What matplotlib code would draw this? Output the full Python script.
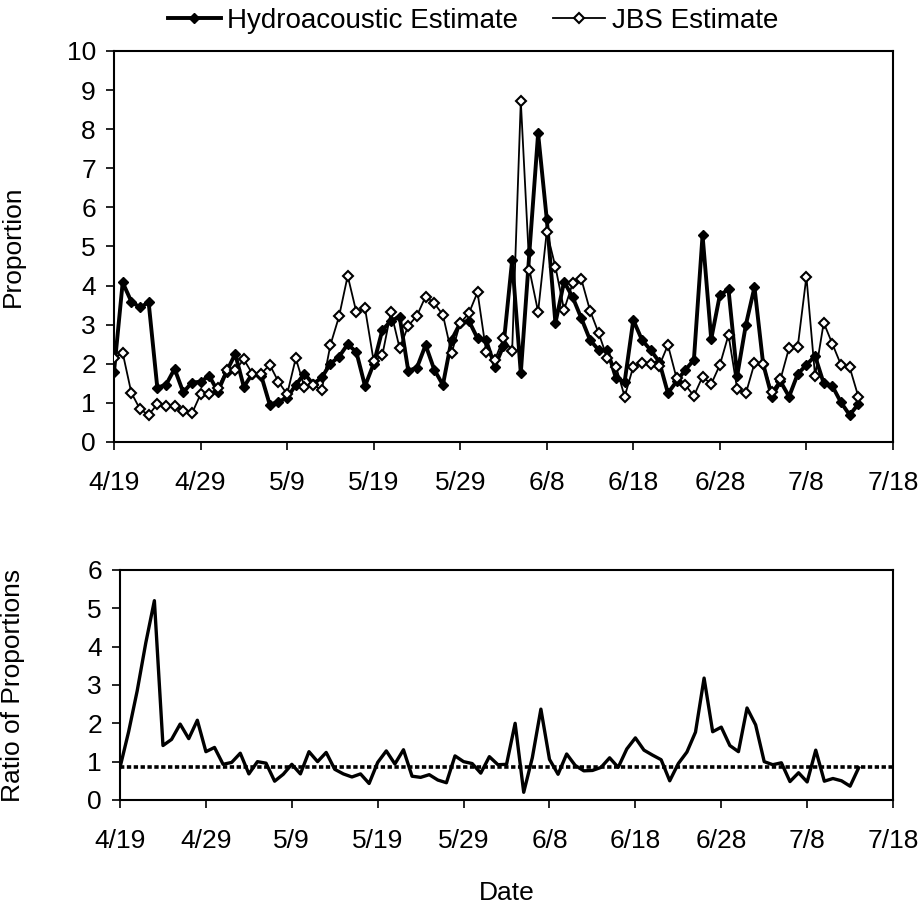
import numpy as np
import matplotlib
matplotlib.use('Agg')
import matplotlib.pyplot as plt

plt.rcParams['font.family'] = ['Liberation Sans', 'DejaVu Sans']

# daily values, 4/19 .. 7/14
hydro = [1.80, 4.08, 3.59, 3.44, 3.57, 1.39, 1.46, 1.87, 1.27, 1.52,
         1.54, 1.69, 1.29, 1.80, 2.25, 1.41, 1.75, 1.70, 0.95, 1.03,
         1.13, 1.46, 1.75, 1.48, 1.65, 2.00, 2.18, 2.50, 2.30, 1.43,
         2.00, 2.86, 3.10, 3.20, 1.82, 1.90, 2.48, 1.85, 1.46, 2.61,
         3.04, 3.10, 2.65, 2.60, 1.93, 2.46, 4.65, 1.76, 4.87, 7.89,
         5.70, 3.04, 4.10, 3.70, 3.16, 2.61, 2.35, 2.35, 1.63, 1.54,
         3.12, 2.61, 2.35, 2.05, 1.25, 1.55, 1.84, 2.10, 5.29, 2.63,
         3.76, 3.90, 1.69, 2.99, 3.96, 2.00, 1.16, 1.55, 1.16, 1.74,
         1.97, 2.20, 1.50, 1.43, 1.01, 0.69, 0.97]
jbs = [2.14, 2.28, 1.26, 0.84, 0.69, 0.97, 0.92, 0.92, 0.79, 0.73,
       1.22, 1.22, 1.39, 1.84, 1.84, 2.11, 1.74, 1.75, 1.97, 1.54,
       1.22, 2.14, 1.41, 1.46, 1.33, 2.48, 3.21, 4.25, 3.32, 3.42,
       2.07, 2.22, 3.33, 2.40, 2.97, 3.23, 3.72, 3.55, 3.25, 2.27,
       3.04, 3.29, 3.83, 2.31, 2.10, 2.65, 2.33, 8.72, 4.40, 3.33,
       5.38, 4.48, 3.38, 4.06, 4.16, 3.36, 2.78, 2.14, 1.93, 1.16,
       1.93, 2.01, 2.00, 1.95, 2.48, 1.63, 1.46, 1.18, 1.67, 1.48,
       1.97, 2.74, 1.35, 1.24, 2.01, 1.99, 1.29, 1.60, 2.41, 2.44,
       4.23, 1.69, 3.05, 2.51, 1.97, 1.91, 1.16]
ratio = [0.85, 1.78, 2.85, 4.10, 5.20, 1.42, 1.58, 1.98, 1.60, 2.08,
         1.26, 1.37, 0.93, 0.98, 1.22, 0.68, 1.00, 0.96, 0.49, 0.67,
         0.93, 0.68, 1.26, 1.00, 1.24, 0.80, 0.68, 0.60, 0.68, 0.43,
         0.98, 1.28, 0.94, 1.31, 0.62, 0.59, 0.66, 0.52, 0.45, 1.15,
         1.00, 0.95, 0.70, 1.13, 0.92, 0.93, 2.00, 0.20, 1.10, 2.37,
         1.06, 0.67, 1.20, 0.90, 0.76, 0.77, 0.85, 1.10, 0.85, 1.33,
         1.62, 1.30, 1.17, 1.05, 0.50, 0.95, 1.25, 1.77, 3.18, 1.78,
         1.90, 1.42, 1.26, 2.40, 1.96, 1.00, 0.92, 0.97, 0.48, 0.71,
         0.47, 1.30, 0.49, 0.56, 0.50, 0.36, 0.84]
ratio_mean = 0.86
tick_labels = ['4/19', '4/29', '5/9', '5/19', '5/29', '6/8', '6/18', '6/28', '7/8', '7/18']

days = np.arange(len(hydro))
tick_pos = np.arange(len(tick_labels)) * 10

fig = plt.figure(figsize=(9.24, 9.13), dpi=100)
ax1 = fig.add_axes([0.1234, 0.5159, 0.843, 0.4283])
ax2 = fig.add_axes([0.1299, 0.1238, 0.8366, 0.2519])


def style(ax, ymax):
    ax.set_xlim(0, 90)
    ax.set_ylim(0, ymax)
    ax.set_xticks(tick_pos)
    ax.set_xticklabels(tick_labels)
    ax.set_yticks(range(ymax + 1))
    for s in ax.spines.values():
        s.set_linewidth(1.5)
        s.set_color('black')
    ax.tick_params(axis='both', direction='out', length=6, width=1.2, labelsize=19)
    ax.tick_params(axis='x', pad=15)
    ax.tick_params(axis='y', pad=7)


h1, = ax1.plot(days, hydro, color='black', lw=2.8, marker='D', ms=5.5,
               mfc='black', mec='black', label='Hydroacoustic Estimate', zorder=3)
h2, = ax1.plot(days, jbs, color='black', lw=1.3, marker='D', ms=5.5,
               mfc='white', mec='black', mew=1.5, label='JBS Estimate', zorder=4)
style(ax1, 10)
ax1.set_ylabel('Proportion', fontsize=19)
ax1.yaxis.set_label_coords(-0.114, 0.5)

ax2.plot(days, ratio, color='black', lw=2.4, zorder=3)
ax2.axhline(ratio_mean, color='black', lw=2.6, linestyle=(0, (1.2, 0.7)), zorder=2)
style(ax2, 6)
ax2.set_ylabel('Ratio of Proportions', fontsize=19)
ax2.yaxis.set_label_coords(-0.123, 0.5)
ax2.set_xlabel('Date', fontsize=19, labelpad=20)

fig.legend(handles=[h1, h2], loc='center', bbox_to_anchor=(473 / 924, 1 - 21 / 913),
           ncol=2, frameon=False, fontsize=20, handlelength=1.9,
           handletextpad=0.22, columnspacing=1.25, borderaxespad=0)

fig.savefig('out.png', dpi=100)
